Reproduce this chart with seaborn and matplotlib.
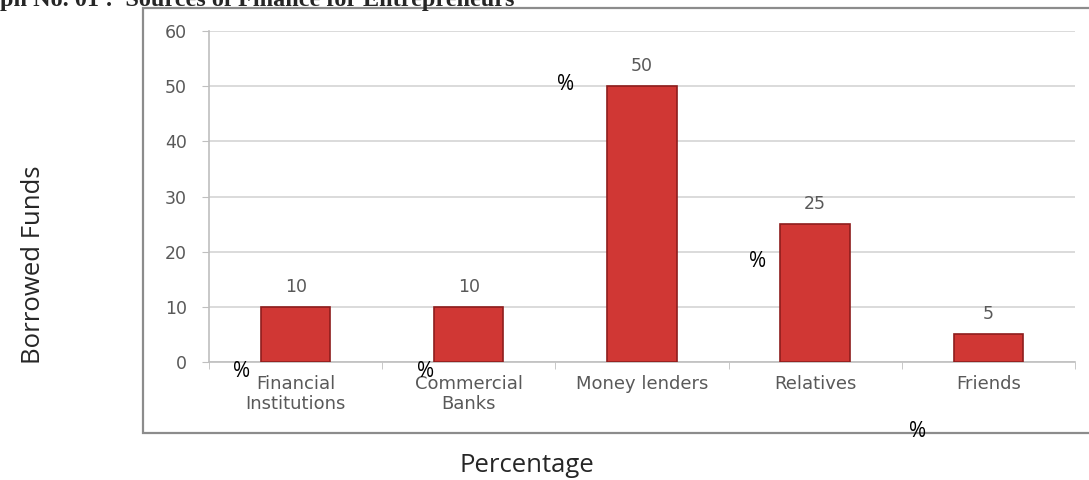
import matplotlib
matplotlib.use("Agg")
import matplotlib.pyplot as plt
import seaborn as sns
import pandas as pd
from matplotlib.patches import Rectangle

# ======================================
# DATA
# ======================================

sources = [
    "Financial\nInstitutions",
    "Commercial\nBanks",
    "Money lenders",
    "Relatives",
    "Friends"
]
percent = [10, 10, 50, 25, 5]
y_ticks = [0, 10, 20, 30, 40, 50, 60]

df = pd.DataFrame({"Source": sources, "Percent": percent})

# ======================================
# FIGURE
# ======================================

sns.set_style("white")
plt.rcParams["font.family"] = ["DejaVu Sans"]

fig = plt.figure(figsize=(10.89, 4.8), dpi=100)

# outer chart frame (drawn behind the axes)
frame = Rectangle(
    (0.1313, 0.098), 0.875, 0.885,
    transform=fig.transFigure,
    facecolor="white", edgecolor="#8c8c8c", linewidth=1.6,
    zorder=-5
)
fig.patches.append(frame)

ax = fig.add_axes([0.192, 0.2458, 0.795, 0.6896])
ax.set_facecolor("none")
ax.set_zorder(2)

sns.barplot(
    data=df,
    x="Source",
    y="Percent",
    color="#d03734",
    edgecolor="#8e1d1c",
    linewidth=1.2,
    width=0.40,
    saturation=1,
    ax=ax,
    zorder=3
)

ax.set_ylim(0, 60)
ax.set_xlim(-0.5, len(sources) - 0.5)
ax.set_yticks(y_ticks)
ax.yaxis.grid(True, color="#d4d4d4", linewidth=1.2, zorder=0)
ax.set_axisbelow(True)

for s in ["top", "right"]:
    ax.spines[s].set_visible(False)
for s in ["left", "bottom"]:
    ax.spines[s].set_color("#bfbfbf")
    ax.spines[s].set_linewidth(1.2)

ax.tick_params(axis="y", colors="#595959", labelsize=12.5, length=5,
               color="#bfbfbf", pad=11, left=True)
ax.tick_params(axis="x", colors="#595959", labelsize=13, length=0, pad=9)
for lbl in ax.get_xticklabels():
    lbl.set_linespacing(1.15)

# tick marks between categories on the x axis
ax.set_xticks([i - 0.5 for i in range(len(sources) + 1)], minor=True)
ax.tick_params(axis="x", which="minor", length=5, color="#bfbfbf",
               bottom=True)

ax.set_xlabel("")
ax.set_ylabel("")

# value labels
for i, v in enumerate(percent):
    ax.text(i, v + 2.0, str(v), ha="center", va="bottom",
            color="#595959", fontsize=12.5)

# axis titles
fig.text(0.031, 0.448, "Borrowed Funds", rotation=90, ha="center",
         va="center", fontsize=18.5, family="Open Sans")
fig.text(0.484, 0.031, "Percentage", ha="center", va="center",
         fontsize=18.5, family="Open Sans")

# stray percent signs
pct_pos = [(0.222, 0.227), (0.391, 0.227), (0.519, 0.823),
           (0.696, 0.455), (0.843, 0.102)]
for px, py in pct_pos:
    fig.text(px, py, "%", ha="center", va="center", fontsize=15,
             family="Open Sans", color="black", zorder=5)

# cropped heading
fig.text(0.0, 0.987, "ph No. 01 :  Sources of Finance for Entrepreneurs",
         ha="left", va="baseline", fontsize=17.5, fontweight="bold",
         family="Liberation Serif")

fig.savefig("out.png", dpi=100)
